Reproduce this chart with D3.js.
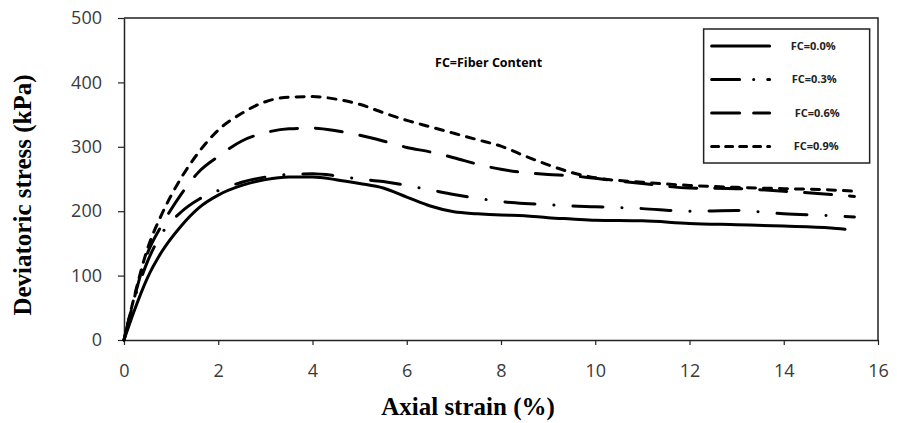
<!DOCTYPE html>
<html>
<head>
<meta charset="utf-8">
<script src="https://cdn.jsdelivr.net/npm/d3@7"></script>
<style>
    body { margin: 0; background: #fff; }
    svg { display: block; }
</style>
</head>
<body>
<div id="chart"></div>
<script>
// strain values (%)
const strain = [0, 0.2, 0.5, 0.8, 1.2, 1.6, 2.0, 2.5, 3.0, 3.5, 4.0, 4.5, 5.0, 5.5, 6.0, 6.5, 7.0, 7.5, 8.0, 8.5, 9.0, 9.5, 10, 11, 12, 13, 14, 15, 15.5];
const strainSolid = [0, 0.2, 0.5, 0.8, 1.2, 1.6, 2.0, 2.5, 3.0, 3.5, 4.0, 4.5, 5.0, 5.5, 6.0, 6.5, 7.0, 7.5, 8.0, 8.5, 9.0, 9.5, 10, 11, 12, 13, 14, 15, 15.3];

// deviatoric stress (kPa)
const fc00 = [0, 42, 97, 137, 176, 206, 225, 240, 249, 253, 253, 249, 243, 236, 222, 208, 199, 196, 194, 193, 190, 188, 186, 185, 181, 179, 177, 174, 172];
const fc03 = [0, 58, 122, 165, 198, 219, 232, 245, 253, 257, 258, 255, 250, 246, 240, 233, 226, 220, 215, 212, 210, 208, 207, 204, 200, 201, 196, 193, 191];
const fc06 = [0, 60, 135, 178, 225, 262, 285, 309, 322, 328, 329, 325, 318, 309, 299, 292, 283, 273, 265, 260, 257, 255, 251, 243, 236, 235, 231, 226, 223];
const fc09 = [0, 62, 142, 195, 250, 293, 326, 352, 370, 377, 378, 374, 366, 353, 341, 331, 321, 311, 301, 286, 272, 260, 252, 245, 240, 237, 235, 233, 231];

const seriesNames = ["FC=0.0%", "FC=0.3%", "FC=0.6%", "FC=0.9%"];
const xTicks = [0, 2, 4, 6, 8, 10, 12, 14, 16];
const yTicks = [0, 100, 200, 300, 400, 500];

const W = 897, H = 423;
const margin = {top: 18, right: 19, bottom: 83, left: 124};
const width = W - margin.left - margin.right,
    height = H - margin.top - margin.bottom;

const tickFont = "'Open Sans', sans-serif";
const titleFont = "'Liberation Serif', 'Times New Roman', serif";

// line styles for each series (round caps like the original)
const dashes = [null, "30,19,0.1,19", "27,18", "8,8"];

const svg = d3.select("#chart")
    .append("svg")
    .attr("width", W)
    .attr("height", H)
    .append("g")
    .attr("transform", "translate(" + margin.left + "," + margin.top + ")");

const x = d3.scaleLinear()
    .domain([0, 16])
    .range([0, width]);
const y = d3.scaleLinear()
    .domain([0, 500])
    .range([height, 0]);

// frame (top and right)
svg.append("path")
    .attr("d", "M0,0H" + width + "V" + height)
    .attr("fill", "none")
    .attr("stroke", "#222")
    .attr("stroke-width", 1.5);

// X axis
const xAxis = svg.append("g")
    .attr("transform", "translate(0," + height + ")")
    .call(d3.axisBottom(x).tickValues(xTicks).tickSize(5).tickPadding(19).tickSizeOuter(0));
// Y axis
const yAxis = svg.append("g")
    .call(d3.axisLeft(y).tickValues(yTicks).tickSize(6).tickPadding(16).tickSizeOuter(0));

[xAxis, yAxis].forEach(function (a) {
    a.select(".domain").attr("stroke", "#222").attr("stroke-width", 1.5);
    a.selectAll(".tick line").attr("stroke", "#222").attr("stroke-width", 1.2);
    a.selectAll(".tick text")
        .attr("fill", "#3a3a3a")
        .style("font-family", tickFont)
        .style("font-size", "18px");
});

// curves
const allData = [
    strainSolid.map((s, i) => ({s: s, v: fc00[i]})),
    strain.map((s, i) => ({s: s, v: fc03[i]})),
    strain.map((s, i) => ({s: s, v: fc06[i]})),
    strain.map((s, i) => ({s: s, v: fc09[i]}))
];
const line = d3.line()
    .x(function (d) { return x(d.s) })
    .y(function (d) { return y(d.v) })
    .curve(d3.curveMonotoneX);

svg.selectAll("curves")
    .data(allData)
    .enter()
    .append("path")
    .attr("d", line)
    .attr("fill", "none")
    .attr("stroke", "#000")
    .attr("stroke-width", 3)
    .attr("stroke-linecap", "round")
    .attr("stroke-dasharray", function (d, i) { return dashes[i] });

// note
svg.append("text")
    .attr("x", x(6.6))
    .attr("y", y(430))
    .attr("dy", "0.35em")
    .style("font-family", tickFont)
    .style("font-weight", 700)
    .style("font-size", "12.5px")
    .text("FC=Fiber Content");

// legend
const legendX = x(12.3), legendY = 11;
const legend = svg.append("g")
    .attr("transform", "translate(" + legendX + "," + legendY + ")");
legend.append("rect")
    .attr("width", 166)
    .attr("height", 134)
    .attr("fill", "#fff")
    .attr("stroke", "#222")
    .attr("stroke-width", 1.5);
const legendDashes = [null, "28,14,0.1,14", "28,14", "7,7"];
legend.selectAll("legend-lines")
    .data(seriesNames)
    .enter()
    .append("line")
    .attr("x1", 8)
    .attr("x2", 66)
    .attr("y1", function (d, i) { return 17 + i * 33.5 })
    .attr("y2", function (d, i) { return 17 + i * 33.5 })
    .attr("stroke", "#000")
    .attr("stroke-width", 3)
    .attr("stroke-linecap", "round")
    .attr("stroke-dasharray", function (d, i) { return legendDashes[i] });
legend.selectAll("legend-labels")
    .data(seriesNames)
    .enter()
    .append("text")
    .attr("x", function (d, i) { return [87, 88, 91, 90][i] })
    .attr("y", function (d, i) { return 17 + i * 33.5 })
    .attr("dy", "0.35em")
    .style("font-family", tickFont)
    .style("font-weight", 700)
    .style("font-size", "11px")
    .style("fill", "#222")
    .text(function (d) { return d });

// axis titles
svg.append("text")
    .attr("x", 344)
    .attr("y", height + 75)
    .attr("text-anchor", "middle")
    .style("font-family", titleFont)
    .style("font-weight", 700)
    .style("font-size", "25px")
    .text("Axial strain (%)");
svg.append("text")
    .attr("transform", "translate(" + (-93) + "," + 177 + ") rotate(-90)")
    .attr("text-anchor", "middle")
    .style("font-family", titleFont)
    .style("font-weight", 700)
    .style("font-size", "25px")
    .text("Deviatoric stress (kPa)");
</script>
</body>
</html>
